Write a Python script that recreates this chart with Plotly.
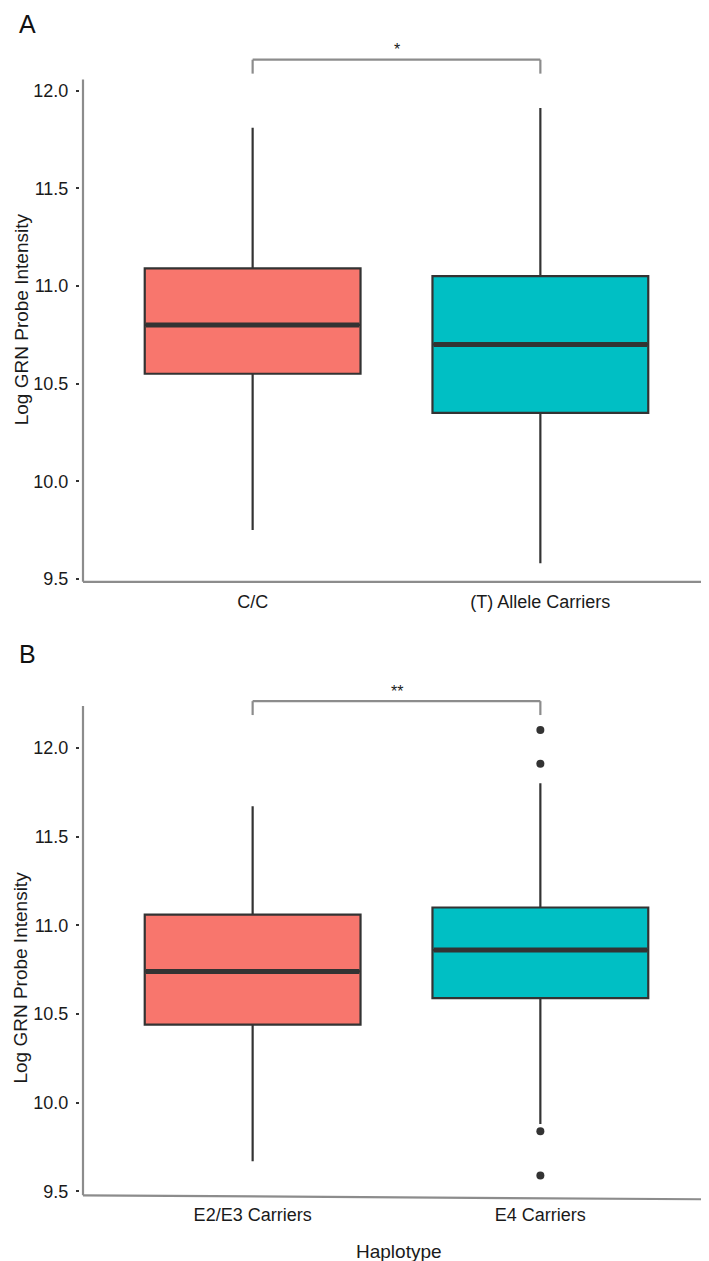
import plotly.graph_objects as go

# ---------------- data ----------------
cats_a = ["C/C", "(T) Allele Carriers"]
q1_a = [10.55, 10.35]
med_a = [10.80, 10.70]
q3_a = [11.09, 11.05]
lo_a = [9.75, 9.58]
hi_a = [11.81, 11.91]

cats_b = ["E2/E3 Carriers", "E4 Carriers"]
q1_b = [10.44, 10.59]
med_b = [10.74, 10.86]
q3_b = [11.06, 11.10]
lo_b = [9.67, 9.88]
hi_b = [11.67, 11.80]
out_b_cat = ["E4 Carriers", "E4 Carriers", "E4 Carriers", "E4 Carriers"]
out_b_val = [12.10, 11.91, 9.84, 9.59]

y_ticks = [9.5, 10.0, 10.5, 11.0, 11.5, 12.0]
y_ticktext = ["9.5", "10.0", "10.5", "11.0", "11.5", "12.0"]

colors = ["#F8766D", "#00BFC4"]
sig_a = "*"
sig_b = "**"

W, H = 709, 1261
BOXW = 0.75
FONT = "Liberation Sans, Arial, sans-serif"
LINE = "#333333"
AXC = "#8c8c8c"
TXT = "#1a1a1a"


def py(p):
    return 1 - p / H


def px(p):
    return p / W


fig = go.Figure()

panels = [
    ("x", "y", cats_a, q1_a, med_a, q3_a, lo_a, hi_a),
    ("x2", "y2", cats_b, q1_b, med_b, q3_b, lo_b, hi_b),
]
for xa, ya, cats, q1, med, q3, lo, hi in panels:
    for i, c in enumerate(cats):
        fig.add_trace(go.Box(
            x=[c], q1=[q1[i]], median=[med[i]], q3=[q3[i]],
            lowerfence=[lo[i]], upperfence=[hi[i]],
            fillcolor=colors[i], line=dict(color=LINE, width=2.2),
            whiskerwidth=0, width=BOXW, boxpoints=False,
            xaxis=xa, yaxis=ya, showlegend=False, hoverinfo="skip"))
        # thicker median line (ggplot style)
        fig.add_shape(type="line", xref=xa, yref=ya,
                      x0=i - BOXW / 2 + 0.004, x1=i + BOXW / 2 - 0.004,
                      y0=med[i], y1=med[i],
                      line=dict(color=LINE, width=5))

fig.add_trace(go.Scatter(
    x=out_b_cat, y=out_b_val, mode="markers",
    marker=dict(color=LINE, size=8), xaxis="x2", yaxis="y2",
    showlegend=False, hoverinfo="skip"))

xdom = [px(72), px(705)]
common = dict(showgrid=False, zeroline=False, showline=False)
xcommon = dict(domain=xdom, type="category", range=[-0.6, 1.6], ticks="",
               ticklabelstandoff=7, tickfont=dict(size=18, color=TXT), **common)
ycommon = dict(tickvals=y_ticks, ticktext=y_ticktext, ticks="outside", ticklen=3,
               tickcolor="#333", tickwidth=2, ticklabelstandoff=4,
               tickfont=dict(size=18, color=TXT), **common)

A_TOP, A_BOT = 72, 577
B_TOP, B_BOT = 702, 1194

fig.update_layout(
    width=W, height=H,
    margin=dict(l=0, r=0, t=0, b=0),
    paper_bgcolor="white", plot_bgcolor="white",
    font=dict(family=FONT, color=TXT),
    xaxis=dict(anchor="y", categoryorder="array", categoryarray=cats_a, **xcommon),
    yaxis=dict(domain=[py(A_BOT), py(A_TOP)], anchor="x", range=[9.485, 12.056], **ycommon),
    xaxis2=dict(anchor="y2", categoryorder="array", categoryarray=cats_b, **xcommon),
    yaxis2=dict(domain=[py(B_BOT), py(B_TOP)], anchor="x2", range=[9.478, 12.235], **ycommon),
)

# axis lines (grey, slightly detached from tick marks as in the original)
axis_lines = [
    (75, A_TOP, 75, A_BOT), (75, A_BOT, 707, A_BOT),
    (75, B_TOP, 75, B_BOT), (75, B_BOT, 707, B_BOT + 4),
]
for x0, y0, x1, y1 in axis_lines:
    fig.add_shape(type="line", xref="paper", yref="paper",
                  x0=px(x0), y0=py(y0), x1=px(x1), y1=py(y1),
                  line=dict(color=AXC, width=2.2))

# significance brackets
for xa, top, bottom, lab, ylab in [("x", 52, 66, sig_a, 42), ("x2", 697, 711, sig_b, 687)]:
    fig.add_shape(type="line", xref=xa, yref="paper", x0=0, x1=1, y0=py(top), y1=py(top),
                  line=dict(color=AXC, width=2.2))
    for xv in (0, 1):
        fig.add_shape(type="line", xref=xa, yref="paper", x0=xv, x1=xv,
                      y0=py(top), y1=py(bottom), line=dict(color=AXC, width=2.2))
    fig.add_annotation(xref=xa, yref="paper", x=0.5, y=py(ylab), text=lab,
                       xanchor="center", yanchor="middle",
                       showarrow=False, font=dict(size=16, color=TXT))

# panel letters
for lab, yc in (("A", 16), ("B", 650)):
    fig.add_annotation(xref="paper", yref="paper", x=px(19), y=py(yc), text=lab,
                       showarrow=False, xanchor="center", yanchor="middle",
                       font=dict(size=25, color="#111"))

# axis titles
for yc in (313, 975):
    fig.add_annotation(xref="paper", yref="paper", x=px(13), y=py(yc),
                       text="Log GRN Probe Intensity", textangle=-90,
                       xanchor="center", yanchor="middle",
                       showarrow=False, font=dict(size=19, color=TXT))
fig.add_annotation(xref="paper", yref="paper", x=px(391), y=py(1250), text="Haplotype",
                   xanchor="center", yanchor="middle",
                   showarrow=False, font=dict(size=19, color=TXT))

fig.write_html("out.html")
